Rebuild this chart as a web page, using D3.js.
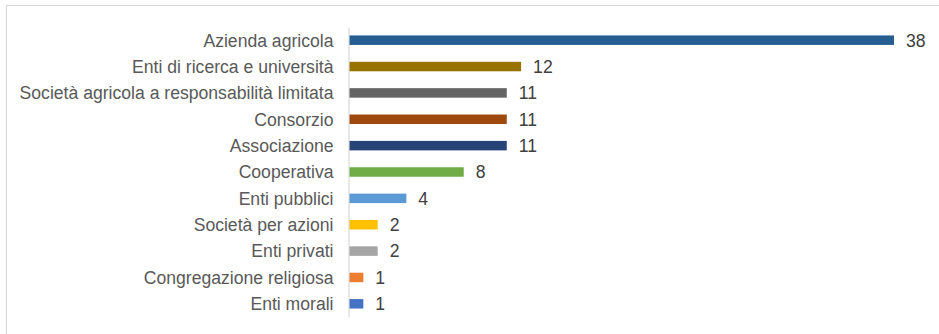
<!DOCTYPE html>
<html>
<head>
<meta charset="utf-8">
<script src="https://cdn.jsdelivr.net/npm/d3@7"></script>
<style>
  html, body { margin: 0; padding: 0; background: #fff; }
  svg { display: block; }
</style>
</head>
<body>
<svg id="chart" width="939" height="334"></svg>
<script>
// Organisation types and their counts
const categories = [
  "Azienda agricola",
  "Enti di ricerca e università",
  "Società agricola a responsabilità limitata",
  "Consorzio",
  "Associazione",
  "Cooperativa",
  "Enti pubblici",
  "Società per azioni",
  "Enti privati",
  "Congregazione religiosa",
  "Enti morali"
];
const values = [38, 12, 11, 11, 11, 8, 4, 2, 2, 1, 1];
const barColors = [
  "#255E91", "#997300", "#636363", "#9E480E", "#264478",
  "#70AD47", "#5B9BD5", "#FFC000", "#A5A5A5", "#ED7D31", "#4472C4"
];

const svg = d3.select("#chart");
const font = "'Liberation Sans', Arial, sans-serif";
const fontSize = 17.6;

// chart frame
svg.append("rect")
  .attr("x", 6.5).attr("y", 5.5)
  .attr("width", 960).attr("height", 360)
  .attr("fill", "none")
  .attr("stroke", "#d9d9d9")
  .attr("stroke-width", 1.2);

const x0 = 349;
const x = d3.scaleLinear().domain([0, 38]).range([x0, 894]);
const y = d3.scaleBand()
  .domain(categories)
  .range([27, 317])
  .paddingInner(0.64)
  .paddingOuter(0.32);

const rows = categories.map((c, i) => ({ cat: c, val: values[i], color: barColors[i] }));

// bars
svg.append("g").selectAll("rect")
  .data(rows)
  .join("rect")
  .attr("x", x(0))
  .attr("y", d => y(d.cat))
  .attr("width", d => x(d.val) - x(0))
  .attr("height", y.bandwidth())
  .attr("fill", d => d.color);

// category axis
const yAxis = d3.axisLeft(y).tickSize(0).tickPadding(15);
const gy = svg.append("g")
  .attr("transform", `translate(${x0 - 0.5},0)`)
  .call(yAxis);
gy.attr("font-family", font).attr("font-size", fontSize);
gy.select(".domain").attr("stroke", "#d9d9d9").attr("stroke-width", 1.2);
gy.selectAll("text")
  .attr("dy", "0.36em")
  .attr("fill", "#595959");

// value labels
svg.append("g").selectAll("text")
  .data(rows)
  .join("text")
  .attr("x", d => x(d.val) + 12)
  .attr("y", d => y(d.cat) + y.bandwidth() / 2)
  .attr("dy", "0.36em")
  .attr("font-family", font)
  .attr("font-size", fontSize)
  .attr("fill", "#404040")
  .text(d => d.val);
</script>
</body>
</html>
